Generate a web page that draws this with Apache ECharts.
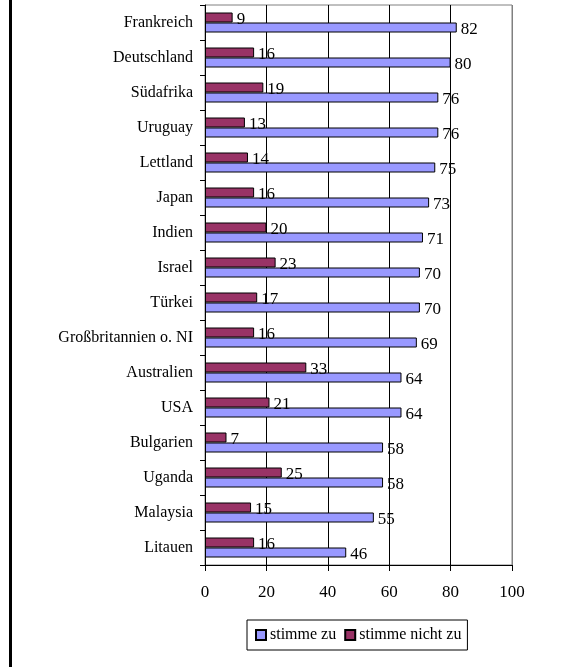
<!DOCTYPE html>
<html>
<head>
<meta charset="utf-8">
<script src="https://cdn.jsdelivr.net/npm/echarts@6/dist/echarts.min.js"></script>
<style>html,body{margin:0;padding:0;background:#fff;}#c{width:564px;height:667px;}</style>
</head>
<body>
<div id="c"></div>
<script>
const categories = ["Frankreich","Deutschland","Südafrika","Uruguay","Lettland","Japan","Indien","Israel","Türkei","Großbritannien o. NI","Australien","USA","Bulgarien","Uganda","Malaysia","Litauen"];
const stimmeZu = [82,80,76,76,75,73,71,70,70,69,64,64,58,58,55,46];
const stimmeNichtZu = [9,16,19,13,14,16,20,23,17,16,33,21,7,25,15,16];
const xTicks = [0,20,40,60,80,100];

const font = "'Liberation Serif', 'Times New Roman', serif";
const fs = 17;
const chart = echarts.init(document.getElementById('c'), null, {renderer:'canvas'});
chart.setOption({
  animation: false,
  textStyle: {fontFamily: font},
  grid: {left: 205, right: 52, top: 5, bottom: 102, show: true, borderColor: '#808080', borderWidth: 1, backgroundColor: 'transparent'},
  xAxis: {
    type: 'value', min: xTicks[0], max: xTicks[xTicks.length-1], interval: 20,
    axisLine: {show: true, lineStyle: {color: '#000', width: 1}},
    axisTick: {show: true, length: 6, lineStyle: {color: '#000'}},
    axisLabel: {color: '#000', fontSize: fs, fontFamily: font, margin: 19},
    splitLine: {show: true, lineStyle: {color: ['#000','#000','#000','#000','#000','#808080'], width: 1}}
  },
  yAxis: {
    type: 'category', data: categories, inverse: true,
    axisLine: {show: true, lineStyle: {color: '#000', width: 1}},
    axisTick: {show: true, length: 5, lineStyle: {color: '#000'}},
    axisLabel: {color: '#000', fontSize: 16, fontFamily: font, margin: 12}
  },
  legend: {
    data: ['stimme zu', 'stimme nicht zu'],
    top: 620, left: 247,
    borderColor: '#000', borderWidth: 1, padding: [7, 6, 7, 8],
    itemWidth: 10, itemHeight: 10, itemGap: 8,
    icon: 'rect',
    textStyle: {color: '#000', fontSize: 16, fontFamily: font, padding: [0,0,0,-1]}
  },
  graphic: [{type: 'rect', shape: {x: 9, y: 0, width: 3, height: 667}, style: {fill: '#000'}}],
  series: [
    {
      name: 'stimme nicht zu', type: 'bar', data: stimmeNichtZu,
      barWidth: 10, barGap: '0%',
      itemStyle: {color: '#993366', borderColor: '#000', borderWidth: 1},
      label: {show: true, position: 'right', distance: 4, offset: [0, 2], color: '#000', fontSize: fs, fontFamily: font}
    },
    {
      name: 'stimme zu', type: 'bar', data: stimmeZu,
      barWidth: 10, barGap: '0%',
      itemStyle: {color: '#9999FF', borderColor: '#000', borderWidth: 1},
      label: {show: true, position: 'right', distance: 4, offset: [0, 2], color: '#000', fontSize: fs, fontFamily: font}
    }
  ]
});
</script>
</body>
</html>
